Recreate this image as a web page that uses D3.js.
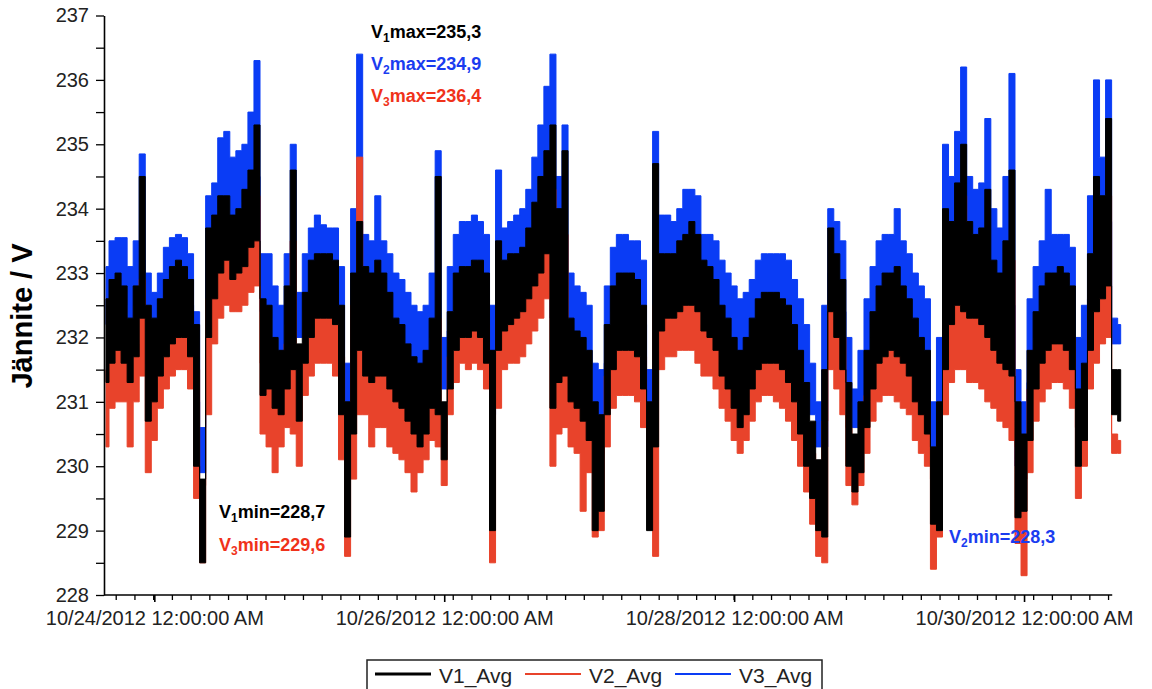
<!DOCTYPE html>
<html>
<head>
<meta charset="utf-8">
<script src="https://cdn.jsdelivr.net/npm/d3@7"></script>
<style>
  body { margin: 0; background: #fff; }
  svg { display: block; }
  text { font-family: "Liberation Sans", Arial, sans-serif; }
</style>
</head>
<body>
<script>
// tunnit 24.10.2012 klo 00:00 alkaen, 1 h välein: jakson ala- ja yläraja
var startHour = -8, stepHours = 1;

var v3Hi = [233.1,233.5,233.55,233.55,233.1,233.5,234.85,233.0,
  232.7,233.0,233.4,233.55,233.6,233.55,233.3,232.4,230.6,234.2,234.4,235.1,
  235.2,234.8,234.9,235.0,235.5,236.3,233.3,233.3,232.8,232.5,233.3,235.0,
  232.7,233.3,233.7,233.9,233.75,233.7,233.7,233.1,231.6,234.0,236.4,233.6,
  233.5,234.2,233.5,233.3,233.0,232.9,232.7,232.5,232.4,232.5,233.0,234.9,
  232.0,233.1,233.6,233.8,233.8,233.9,233.8,233.6,232.5,234.6,233.7,233.8,
  233.9,234.0,234.3,234.8,235.3,235.9,236.4,234.5,235.3,233.0,232.8,232.7,
  232.5,231.6,231.5,232.8,233.4,233.6,233.6,233.5,233.5,233.2,231.5,235.2,
  233.9,233.9,233.8,234.0,234.3,234.3,234.2,233.6,233.6,233.5,233.2,233.0,
  232.8,232.6,232.7,232.9,233.2,233.3,233.3,233.3,233.3,233.2,232.9,232.6,
  232.2,231.6,231.0,232.5,234.0,233.8,233.5,232.0,231.2,231.8,232.6,233.1,
  233.5,233.6,233.6,234.0,233.5,233.3,233.0,232.8,232.6,231.0,232.0,235.0,
  234.5,235.2,236.2,234.5,234.3,234.4,235.4,234.0,233.7,234.5,236.1,231.5,
  231.0,232.6,233.1,233.5,234.3,233.6,233.6,233.6,233.4,232.0,232.5,234.2,
  236.0,234.8,236.0,232.3,232.2];
var v3Lo = [232.2,232.5,232.6,232.5,232.2,232.5,233.2,231.6,
  231.8,232.2,232.5,232.7,232.8,232.8,232.5,231.0,229.9,233.0,233.5,234.0,
  234.2,233.9,234.0,234.1,234.3,234.5,232.4,232.3,232.0,231.8,232.2,232.8,
  232.0,232.4,232.8,233.0,232.9,232.9,232.8,231.6,230.5,232.0,233.0,232.6,
  232.5,232.6,232.5,232.3,232.1,232.0,231.8,231.6,231.5,231.5,232.0,232.0,
  231.2,232.1,232.6,232.8,232.8,232.9,232.9,232.6,230.8,232.8,232.8,232.9,
  233.0,233.1,233.3,233.6,233.9,234.2,232.3,232.5,232.6,232.1,232.0,231.8,
  231.5,230.6,230.5,231.6,232.4,232.6,232.6,232.6,232.5,232.2,230.0,231.5,
  232.9,232.9,232.9,233.1,233.2,233.3,233.2,232.8,232.8,232.6,232.3,232.1,
  231.8,231.6,231.7,232.0,232.3,232.4,232.4,232.4,232.3,232.2,231.9,231.5,
  231.2,230.8,230.3,230.3,233.0,232.8,232.4,231.0,230.6,230.9,231.6,232.1,
  232.5,232.6,232.6,232.6,232.5,232.3,232.0,231.8,231.5,230.1,230.0,232.5,
  233.2,233.5,233.6,233.4,233.3,233.2,233.2,232.9,232.7,232.6,232.5,230.0,
  229.9,231.3,232.0,232.5,232.6,232.7,232.7,232.6,232.4,231.2,231.5,232.6,
  233.3,233.5,233.8,231.9,231.9];

var v1Hi = [232.6,232.9,233.0,232.8,232.3,232.8,234.5,232.5,
  232.3,232.6,232.9,233.1,233.2,233.1,232.9,232.2,229.8,233.7,233.9,234.2,
  234.2,233.9,234.0,234.3,234.6,235.3,232.6,232.5,232.0,231.8,232.8,234.6,
  231.9,232.7,233.2,233.3,233.3,233.3,233.2,232.5,231.0,233.0,233.8,233.1,
  233.0,233.2,233.0,232.7,232.3,232.2,231.9,231.7,231.6,231.8,232.3,234.5,
  231.0,232.4,233.0,233.1,233.1,233.2,233.2,233.0,231.8,233.5,233.2,233.3,
  233.3,233.4,233.7,234.1,234.5,234.9,235.3,234.0,234.9,232.3,232.1,232.0,
  231.8,231.0,230.8,232.2,232.8,233.0,233.0,233.0,232.9,232.5,231.0,234.7,
  233.3,233.3,233.3,233.5,233.6,233.8,233.6,233.2,233.1,232.9,232.5,232.3,
  232.0,231.8,232.0,232.3,232.6,232.7,232.7,232.7,232.6,232.5,232.2,231.8,
  231.3,230.7,230.1,231.5,233.7,233.3,232.9,231.3,230.5,231.0,231.8,232.4,
  232.8,233.0,233.0,233.1,232.8,232.6,232.3,232.0,231.8,230.3,231.0,234.0,
  233.8,234.4,235.0,233.8,233.6,233.7,234.3,233.2,233.0,233.5,234.6,231.0,
  230.5,231.8,232.4,232.8,233.0,233.0,233.1,233.0,232.8,231.2,231.6,233.3,
  234.5,234.2,235.4,231.5,231.5];
var v1Lo = [231.3,231.6,231.8,231.6,231.3,231.7,232.3,230.7,
  231.0,231.4,231.7,231.9,232.0,232.0,231.7,230.0,228.5,232.0,232.6,233.0,
  233.2,232.9,233.0,233.1,233.4,233.5,231.1,231.2,230.9,230.8,231.2,231.5,
  230.7,231.6,232.0,232.3,232.3,232.3,232.2,230.8,228.9,230.5,231.8,231.4,
  231.3,231.4,231.4,231.2,231.0,230.9,230.7,230.5,230.3,230.5,230.9,230.8,
  230.1,231.2,231.8,232.0,232.0,232.1,232.0,231.6,229.0,231.8,232.1,232.2,
  232.3,232.4,232.6,232.8,233.0,233.3,230.9,231.3,231.4,231.0,230.9,230.7,
  230.4,229.0,229.3,230.8,231.5,231.8,231.8,231.8,231.7,231.2,229.0,230.3,
  232.1,232.3,232.3,232.4,232.5,232.5,232.4,232.1,232.0,231.8,231.4,231.2,
  230.9,230.6,230.8,231.2,231.5,231.6,231.6,231.6,231.5,231.3,231.0,230.5,
  230.0,229.5,229.0,228.9,232.4,232.0,231.5,230.0,229.6,229.9,230.6,231.2,
  231.6,231.7,231.8,231.7,231.6,231.4,231.0,230.8,230.5,229.1,229.0,231.5,
  232.2,232.5,232.4,232.3,232.3,232.2,232.0,231.8,231.6,231.5,231.4,229.2,
  229.3,230.4,231.2,231.6,231.8,231.9,231.9,231.8,231.5,230.0,230.4,231.8,
  232.4,232.6,232.8,230.8,230.7];

var v2Hi = [231.5,231.9,232.0,231.8,231.6,231.9,232.9,231.5,
  231.3,231.7,232.0,232.2,232.3,232.3,232.1,231.5,229.7,232.6,233.0,233.3,
  233.4,233.1,233.1,233.3,233.8,234.2,231.6,231.5,231.3,231.2,231.9,233.5,
  231.4,231.9,232.3,232.5,232.5,232.5,232.3,231.7,230.5,232.5,234.8,232.1,
  232.0,232.0,231.9,231.7,231.5,231.4,231.2,231.0,230.9,231.0,231.5,232.3,
  230.5,231.7,232.3,232.4,232.4,232.4,232.4,232.2,231.2,232.3,232.3,232.4,
  232.5,232.6,232.9,233.3,233.7,234.0,234.3,233.0,233.6,231.4,231.3,231.2,
  231.0,230.5,230.2,231.4,231.9,232.1,232.1,232.1,232.0,231.7,230.5,232.5,
  232.4,232.5,232.5,232.6,232.6,232.6,232.5,232.2,232.1,232.0,231.7,231.5,
  231.3,231.0,231.2,231.5,231.8,231.9,232.0,231.9,231.8,231.7,231.4,231.0,
  230.6,230.2,229.6,230.7,232.5,232.3,232.0,230.6,230.0,230.4,231.1,231.6,
  232.0,232.1,232.2,232.1,231.9,231.8,231.4,231.2,231.0,229.8,230.5,232.5,
  232.7,233.2,234.2,232.6,232.5,232.5,233.0,232.2,232.0,232.3,233.2,230.3,
  229.8,231.2,231.6,232.0,232.2,232.3,232.4,232.3,232.0,230.6,231.0,232.4,
  233.0,233.2,234.2,230.5,230.4];
var v2Lo = [230.3,230.9,231.0,231.0,230.3,231.0,231.4,229.9,
  230.4,230.9,231.2,231.4,231.5,231.5,231.2,229.5,228.5,230.8,231.9,232.3,
  232.5,232.4,232.4,232.5,232.7,232.8,230.5,230.3,229.9,230.3,230.6,230.5,
  230.0,231.1,231.4,231.6,231.6,231.6,231.4,230.1,228.6,229.8,230.8,230.8,
  230.3,230.6,230.6,230.3,230.2,230.1,229.9,229.6,229.9,230.1,230.4,230.3,
  229.7,230.8,231.3,231.6,231.5,231.6,231.5,231.2,228.5,230.9,231.5,231.6,
  231.6,231.7,231.9,232.1,232.3,232.6,230.0,230.5,230.6,230.3,230.2,229.3,
  229.9,228.9,229.0,230.3,230.9,231.1,231.1,231.1,231.0,230.6,229.5,228.6,
  231.5,231.7,231.7,231.8,231.8,231.8,231.6,231.4,231.4,231.2,230.9,230.7,
  230.4,230.2,230.4,230.7,231.0,231.1,231.1,231.0,230.9,230.7,230.4,230.0,
  229.6,229.1,228.6,228.5,231.5,231.2,230.8,229.7,229.4,229.7,230.2,230.7,
  231.0,231.1,231.1,231.0,230.9,230.8,230.4,230.2,230.0,228.4,228.9,230.8,
  231.3,231.5,231.5,231.3,231.3,231.2,231.0,230.9,230.7,230.6,230.4,228.8,
  228.3,229.9,230.7,231.0,231.2,231.3,231.3,231.2,230.9,229.5,230.0,231.2,
  231.6,231.9,232.0,230.2,230.2];

var yTicks = d3.range(228, 237.01, 0.5);
var xMajorHours = [0, 48, 96, 144];
var xMajorLabels = ['10/24/2012 12:00:00 AM', '10/26/2012 12:00:00 AM', '10/28/2012 12:00:00 AM', '10/30/2012 12:00:00 AM'];
var xMinorHours = d3.range(-6.39, 158.5, 3.1);

var seriesNames = ['V1_Avg', 'V2_Avg', 'V3_Avg'];
var seriesColors = ['#000000', '#e8432b', '#0a3cf5'];

var notes = [
  { main: 'V', sub: '1', rest: 'max=235,3', color: '#000000', x: 371, y: 38 },
  { main: 'V', sub: '2', rest: 'max=234,9', color: '#1a3cf0', x: 371, y: 70 },
  { main: 'V', sub: '3', rest: 'max=236,4', color: '#f0321a', x: 371, y: 102 },
  { main: 'V', sub: '1', rest: 'min=228,7', color: '#000000', x: 219, y: 518 },
  { main: 'V', sub: '3', rest: 'min=229,6', color: '#f0321a', x: 219, y: 551 },
  { main: 'V', sub: '2', rest: 'min=228,3', color: '#1a3cf0', x: 949, y: 543 }
];

var width = 1152, height = 689;
var svg = d3.select('body').append('svg')
    .attr('width', width)
    .attr('height', height);

var x = d3.scaleLinear().domain([-8.33, 160.55]).range([104, 1124]);
var y = d3.scaleLinear().domain([228, 237]).range([595, 15.5]);

function rows(lo, hi) {
  return lo.map(function (d, i) {
    return { h: startHour + i * stepHours, lo: d, hi: hi[i] };
  });
}

var band = d3.area()
    .curve(d3.curveStep)
    .x(function (d) { return x(d.h); })
    .y0(function (d) { return y(d.lo); })
    .y1(function (d) { return y(d.hi); });

// piirtojärjestys: sininen alle, musta päälle
var layers = [
  { data: rows(v3Lo, v3Hi), color: seriesColors[2] },
  { data: rows(v2Lo, v2Hi), color: seriesColors[1] },
  { data: rows(v1Lo, v1Hi), color: seriesColors[0] }
];

svg.append('g').selectAll('path').data(layers)
  .enter().append('path')
    .attr('d', function (d) { return band(d.data); })
    .attr('fill', function (d) { return d.color; })
    .attr('stroke', function (d) { return d.color; })
    .attr('stroke-width', 1);

// y-akseli
var yAxis = svg.append('g')
    .attr('transform', 'translate(' + x.range()[0] + ',0)')
    .call(d3.axisLeft(y).tickValues(yTicks).tickSize(8).tickSizeOuter(0).tickPadding(7)
      .tickFormat(function (d) { return d % 1 === 0 ? d : ''; }));
yAxis.select('.domain').attr('stroke-width', 1.6);
yAxis.selectAll('.tick line').attr('stroke-width', 1.3);
yAxis.selectAll('text').attr('font-size', 20).attr('fill', '#222');

// x-akseli: pienet ja isot merkit
var xAxisMinor = svg.append('g')
    .attr('transform', 'translate(0,' + y(228) + ')')
    .call(d3.axisBottom(x).tickValues(xMinorHours).tickSize(5).tickSizeOuter(0).tickFormat(''));
xAxisMinor.select('.domain').attr('d', 'M' + x.range()[0] + ',0H' + x(158.6)).attr('stroke-width', 1.6);
xAxisMinor.selectAll('.tick line').attr('stroke-width', 1.3);

var xAxisMajor = svg.append('g')
    .attr('transform', 'translate(0,' + y(228) + ')')
    .call(d3.axisBottom(x).tickValues(xMajorHours).tickSize(7).tickPadding(9)
      .tickFormat(function (d, i) { return xMajorLabels[i]; }));
xAxisMajor.select('.domain').remove();
xAxisMajor.selectAll('.tick line').attr('stroke-width', 1.6);
xAxisMajor.selectAll('text').attr('font-size', 20).attr('fill', '#222');

// y-akselin otsikko
svg.append('text')
    .attr('transform', 'translate(32,316) rotate(-90)')
    .attr('text-anchor', 'middle')
    .attr('font-size', 29)
    .attr('font-weight', 'bold')
    .text('Jännite / V');

// min/max -merkinnät
var noteText = svg.append('g').selectAll('text').data(notes)
  .enter().append('text')
    .attr('x', function (d) { return d.x; })
    .attr('y', function (d) { return d.y; })
    .attr('fill', function (d) { return d.color; })
    .attr('font-size', 18)
    .attr('font-weight', 'bold');
noteText.append('tspan').text(function (d) { return d.main; });
noteText.append('tspan').attr('font-size', 12).attr('dy', 4).text(function (d) { return d.sub; });
noteText.append('tspan').attr('dy', -4).text(function (d) { return d.rest; });

// selite
var legend = svg.append('g');
legend.append('rect')
    .attr('x', 367).attr('y', 660).attr('width', 455).attr('height', 40)
    .attr('fill', '#fff').attr('stroke', '#222').attr('stroke-width', 1.5);
var legendItem = legend.selectAll('g.item').data(seriesNames)
  .enter().append('g')
    .attr('class', 'item')
    .attr('transform', function (d, i) { return 'translate(' + (375 + i * 150) + ',674)'; });
legendItem.append('line')
    .attr('x1', 0).attr('x2', 56)
    .attr('stroke', function (d, i) { return seriesColors[i]; })
    .attr('stroke-width', function (d, i) { return i === 0 ? 3 : 2; });
legendItem.append('text')
    .attr('x', 64).attr('y', 9)
    .attr('font-size', 21)
    .attr('fill', '#222')
    .text(function (d) { return d; });
</script>
</body>
</html>
